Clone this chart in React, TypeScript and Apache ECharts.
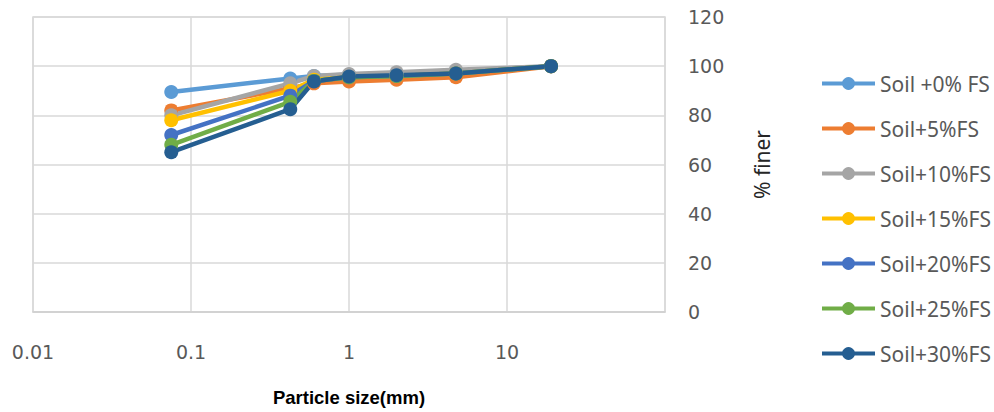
import React, { useEffect, useRef } from "react";
import * as echarts from "echarts";

// Sieve sizes (mm) and percent finer for each soil / fly-ash-sand mix
const sieveSizes = [0.075, 0.425, 0.6, 1, 2, 4.75, 19];

const seriesNames = [
  "Soil +0% FS",
  "Soil+5%FS",
  "Soil+10%FS",
  "Soil+15%FS",
  "Soil+20%FS",
  "Soil+25%FS",
  "Soil+30%FS",
];

const soil0 = [89.5, 95, 96, 96.5, 97, 98, 100];
const soil5 = [82, 91, 93, 93.8, 94.5, 95.5, 100];
const soil10 = [80, 93, 96, 96.8, 97.5, 98.5, 100];
const soil15 = [78, 90, 94.5, 95.5, 96, 97, 100];
const soil20 = [72, 88, 94, 95.5, 96, 97, 100];
const soil25 = [68, 85.5, 94, 95.5, 96, 97, 100];
const soil30 = [65, 82.5, 93.8, 95.8, 96.3, 97, 100];

const seriesValues = [soil0, soil5, soil10, soil15, soil20, soil25, soil30];

const colors = ["#5B9BD5", "#ED7D31", "#A5A5A5", "#FFC000", "#4472C4", "#70AD47", "#255E91"];

const yTicks = { min: 0, max: 120, interval: 20 };

export default function App() {
  const ref = useRef<HTMLDivElement>(null);

  useEffect(() => {
    if (!ref.current) return;
    const chart = echarts.init(ref.current, null, { renderer: "svg" });

    const series = seriesNames.map((name, i) => ({
      name,
      type: "line",
      data: sieveSizes.map((s, j) => [s, seriesValues[i][j]]),
      symbol: "circle",
      symbolSize: 14,
      lineStyle: { width: 4.5, color: colors[i] },
      itemStyle: { color: colors[i] },
      emphasis: { disabled: true },
    }));

    chart.setOption({
      animation: false,
      color: colors,
      grid: {
        left: 33,
        right: 329,
        top: 17,
        bottom: 97,
        show: true,
        borderColor: "#d9d9d9",
        borderWidth: 1.5,
      },
      xAxis: {
        type: "log",
        logBase: 10,
        min: 0.01,
        max: 100,
        name: "Particle size(mm)",
        nameLocation: "middle",
        nameGap: 76,
        nameTextStyle: {
          fontFamily: "'Liberation Sans Narrow', 'Liberation Sans', sans-serif",
          fontWeight: "bold",
          fontSize: 18.5,
          color: "#000000",
        },
        axisLine: { show: true, lineStyle: { color: "#cfcfcf", width: 1.5 } },
        axisTick: { show: false },
        splitLine: { show: true, lineStyle: { color: "#d9d9d9", width: 1.5 } },
        minorSplitLine: { show: false },
        axisLabel: {
          margin: 30,
          fontFamily: "'DejaVu Sans', sans-serif",
          fontSize: 19,
          color: "#595959",
          showMaxLabel: false,
          formatter: (v: number) => String(Number(v.toPrecision(6))),
        },
      },
      yAxis: {
        type: "value",
        position: "right",
        min: yTicks.min,
        max: yTicks.max,
        interval: yTicks.interval,
        name: "% finer",
        nameLocation: "middle",
        nameRotate: 90,
        nameGap: 86,
        nameTextStyle: {
          fontFamily: "'Noto Sans', sans-serif",
          fontSize: 21,
          color: "#262626",
        },
        axisLine: { show: false },
        axisTick: { show: false },
        splitLine: { show: true, lineStyle: { color: "#d9d9d9", width: 1.5 } },
        axisLabel: {
          margin: 23,
          fontFamily: "'DejaVu Sans', sans-serif",
          fontSize: 19,
          color: "#595959",
        },
      },
      legend: {
        orient: "vertical",
        left: 815,
        top: 68,
        itemWidth: 53,
        itemHeight: 16,
        itemGap: 24,
        data: seriesNames,
        lineStyle: { width: 4 },
        textStyle: {
          fontFamily: "'Noto Sans', sans-serif",
          fontSize: 21,
          lineHeight: 21,
          color: "#595959",
        },
      },
      series,
    });

    return () => chart.dispose();
  }, []);

  return <div ref={ref} style={{ width: 994, height: 412, position: "absolute", left: 0, top: 0 }} />;
}
